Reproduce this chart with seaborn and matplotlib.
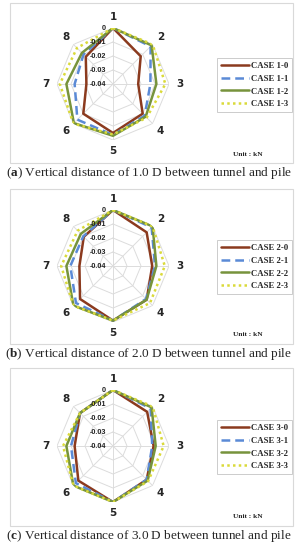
import numpy as np
import pandas as pd
import matplotlib
matplotlib.use('Agg')
import matplotlib.pyplot as plt
from matplotlib.patches import Rectangle
import seaborn as sns

## data (kN), axes 1..8 clockwise from top
axis_labels = ['1', '2', '3', '4', '5', '6', '7', '8']
ring_levels = [-0.04, -0.03, -0.02, -0.01, 0.0]
ring_labels = ['-0.04', '-0.03', '-0.02', '-0.01', '0']

cases_a = ['CASE 1-0', 'CASE 1-1', 'CASE 1-2', 'CASE 1-3']
case_1_0 = [0.0, -0.012, -0.022, -0.010, -0.005, -0.010, -0.021, -0.0125]
case_1_1 = [0.0, -0.002, -0.0133, -0.008, -0.0036, -0.004, -0.0126, -0.0102]
case_1_2 = [0.0, -0.001, -0.009, -0.007, -0.003, -0.0005, -0.0067, -0.0086]
case_1_3 = [0.0, 0.0, -0.0026, -0.006, -0.004, 0.0, -0.002, -0.0036]

cases_b = ['CASE 2-0', 'CASE 2-1', 'CASE 2-2', 'CASE 2-3']
case_2_0 = [0.0, -0.006, -0.012, -0.006, -0.001, -0.0067, -0.016, -0.0105]
case_2_1 = [0.0, -0.001, -0.010, -0.0067, -0.001, -0.0026, -0.0095, -0.010]
case_2_2 = [0.0, 0.0, -0.009, -0.006, -0.001, 0.0, -0.0067, -0.0075]
case_2_3 = [0.0, 0.0, -0.003, -0.0026, -0.001, 0.0, -0.003, -0.0043]

cases_c = ['CASE 3-0', 'CASE 3-1', 'CASE 3-2', 'CASE 3-3']
case_3_0 = [0.0, -0.0055, -0.011, -0.006, 0.0, -0.005, -0.0126, -0.0067]
case_3_1 = [0.0, -0.002, -0.012, -0.006, 0.0, -0.0025, -0.010, -0.0067]
case_3_2 = [0.0, -0.001, -0.0095, -0.005, 0.0, 0.0, -0.0067, -0.0067]
case_3_3 = [0.0, 0.0, -0.0038, -0.0045, 0.0, 0.0, -0.0043, -0.0067]

colors = ['#8B3A1E', '#5B8AD6', '#77933C', '#DADA3A']
dash_styles = ['', (3.5, 2), '', (1, 1.3)]

sns.set_theme(style='white')
plt.rcParams['font.family'] = ['DejaVu Sans']
plt.rcParams['mathtext.fontset'] = 'custom'
plt.rcParams['mathtext.bf'] = 'Liberation Serif:bold'
plt.rcParams['mathtext.rm'] = 'Liberation Serif'

W, H = 295, 550
fig = plt.figure(figsize=(W / 100, H / 100), dpi=100)
fig.patch.set_facecolor('white')

angles = np.linspace(0, 2 * np.pi, 8, endpoint=False)
closed = np.append(angles, 2 * np.pi)


def long_frame(cases, series):
    rows = []
    for name, vals in zip(cases, series):
        vals = list(vals) + [vals[0]]
        for th, v in zip(closed, vals):
            rows.append({'theta': th, 'value': v, 'case': name})
    return pd.DataFrame(rows)


def radar(center_y, box, cases, series, letter, dist):
    cx, cy, rad = 113, center_y, 56
    # panel frame
    fig.add_artist(Rectangle((10 / W, 1 - box[1] / H), 283 / W, (box[1] - box[0]) / H,
                             transform=fig.transFigure, fill=False,
                             edgecolor='#d9d9d9', lw=0.8))
    ax = fig.add_axes([(cx - rad) / W, 1 - (cy + rad) / H, 2 * rad / W, 2 * rad / H],
                      projection='polar')
    ax.set_theta_zero_location('N')
    ax.set_theta_direction(-1)
    ax.set_facecolor('none')
    ax.grid(False)
    ax.spines['polar'].set_visible(False)

    # octagon grid and spokes
    for lev in ring_levels[1:]:
        ax.plot(closed, [lev] * 9, color='#dcdcdc', lw=0.7, zorder=0)
    for th in angles:
        ax.plot([th, th], [ring_levels[0], 0], color='#dcdcdc', lw=0.7, zorder=0)

    df = long_frame(cases, series)
    sns.lineplot(data=df, x='theta', y='value', hue='case', style='case',
                 palette=colors, dashes=dash_styles, sort=False, lw=1.8, ax=ax)
    ax.set_ylim(ring_levels[0], 0)
    ax.set_yticks([])
    ax.set_xticks(angles)
    ax.set_xticklabels(axis_labels, fontsize=7.5, fontweight='bold')
    ax.tick_params(axis='x', pad=-5)
    ax.set_xlabel('')
    ax.set_ylabel('')

    for lev, lab in zip(ring_levels, ring_labels):
        ax.annotate(lab, (0, lev), xytext=(-5, 0), textcoords='offset points',
                    ha='right', va='center', fontsize=5.2, fontweight='bold',
                    family='Liberation Sans', color='#222222')

    handles, labels = ax.get_legend_handles_labels()
    ax.get_legend().remove()
    leg = ax.legend(handles, labels, loc='center left',
                    bbox_to_anchor=(217 / W, 1 - (cy + 1) / H),
                    bbox_transform=fig.transFigure, frameon=True, fancybox=False,
                    prop={'family': 'Liberation Serif', 'weight': 'bold', 'size': 6.3},
                    handlelength=3.2, handletextpad=0.2, labelspacing=0.55,
                    borderpad=0.45, borderaxespad=0)
    leg.get_frame().set_edgecolor('#bfbfbf')
    leg.get_frame().set_linewidth(0.7)

    fig.text(263 / W, 1 - (box[1] - 9) / H, 'Unit : kN', ha='right', va='center',
             family='Liberation Serif', fontweight='bold', fontsize=5.3)
    fig.text(149 / W, 1 - (box[1] + 10) / H,
             r'($\mathbf{' + letter + r'}$) Vertical distance of ' + dist + ' D between tunnel and pile',
             ha='center', va='center', family='Liberation Serif', fontsize=9.5)


radar(84, (3, 163), cases_a, [case_1_0, case_1_1, case_1_2, case_1_3], 'a', '1.0')
radar(266, (189, 344), cases_b, [case_2_0, case_2_1, case_2_2, case_2_3], 'b', '2.0')
radar(446, (368, 526), cases_c, [case_3_0, case_3_1, case_3_2, case_3_3], 'c', '3.0')

fig.savefig('out.png', dpi=100, facecolor='white')
